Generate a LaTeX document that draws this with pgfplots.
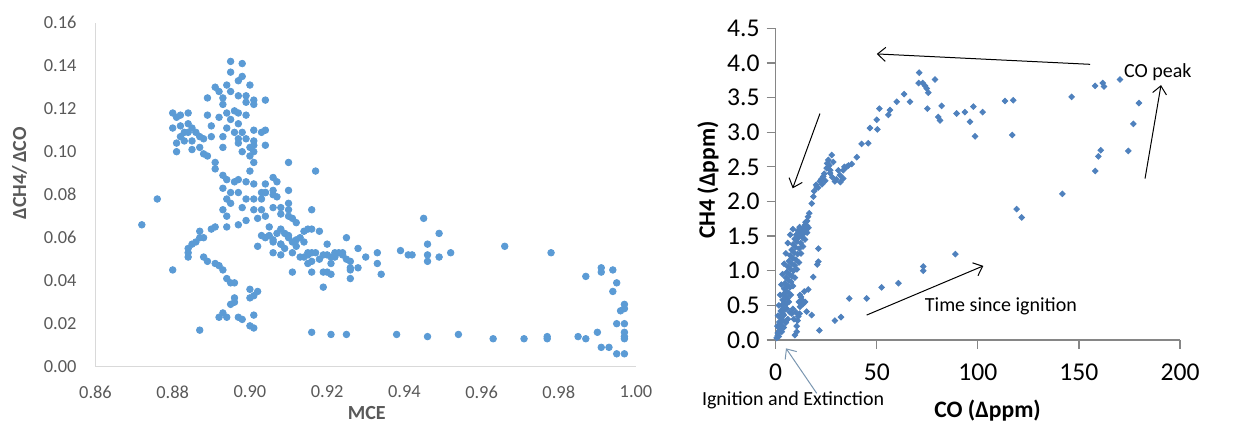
\documentclass[border=0pt]{standalone}
\usepackage{fontspec}
\setmainfont{Carlito}
\usepackage{pgfplots}
\pgfplotsset{compat=1.18}
\usetikzlibrary{arrows.meta}

\definecolor{leftblue}{HTML}{5B9BD5}
\definecolor{rightblue}{HTML}{4F81BD}
\definecolor{labelgray}{HTML}{595959}
\definecolor{lightaxis}{HTML}{D9D9D9}
\definecolor{darkaxis}{HTML}{868686}
\definecolor{ignarrow}{HTML}{7A96B0}

% left panel: MCE vs dCH4/dCO
\pgfplotstableread{
x y
0.895 0.142
0.898 0.141
0.895 0.137
0.898 0.135
0.897 0.133
0.900 0.131
0.891 0.130
0.894 0.131
0.892 0.128
0.895 0.128
0.897 0.126
0.889 0.125
0.893 0.125
0.899 0.126
0.901 0.124
0.904 0.124
0.893 0.122
0.899 0.123
0.901 0.122
0.880 0.118
0.881 0.116
0.882 0.117
0.884 0.118
0.880 0.111
0.882 0.112
0.884 0.113
0.885 0.111
0.883 0.109
0.884 0.109
0.886 0.109
0.882 0.107
0.883 0.105
0.885 0.105
0.881 0.104
0.887 0.107
0.881 0.100
0.885 0.101
0.887 0.102
0.888 0.099
0.889 0.098
0.889 0.117
0.890 0.112
0.888 0.106
0.890 0.107
0.892 0.116
0.894 0.118
0.896 0.119
0.897 0.118
0.899 0.117
0.895 0.115
0.897 0.113
0.894 0.111
0.896 0.109
0.898 0.109
0.901 0.110
0.903 0.109
0.904 0.110
0.893 0.107
0.897 0.106
0.899 0.106
0.901 0.105
0.897 0.104
0.900 0.102
0.901 0.103
0.898 0.100
0.901 0.100
0.904 0.103
0.893 0.102
0.900 0.098
0.901 0.095
0.910 0.095
0.917 0.091
0.891 0.095
0.891 0.092
0.893 0.089
0.894 0.087
0.900 0.091
0.899 0.086
0.896 0.086
0.897 0.087
0.893 0.083
0.895 0.081
0.897 0.081
0.901 0.085
0.904 0.085
0.906 0.088
0.907 0.086
0.906 0.082
0.903 0.081
0.904 0.081
0.906 0.080
0.910 0.082
0.876 0.078
0.899 0.078
0.901 0.078
0.903 0.078
0.894 0.078
0.895 0.076
0.910 0.076
0.908 0.074
0.910 0.073
0.916 0.073
0.893 0.073
0.898 0.074
0.901 0.073
0.872 0.066
0.894 0.070
0.894 0.065
0.897 0.066
0.899 0.068
0.902 0.069
0.903 0.073
0.904 0.070
0.906 0.074
0.908 0.071
0.910 0.070
0.911 0.069
0.912 0.067
0.902 0.056
0.903 0.061
0.905 0.061
0.906 0.058
0.907 0.062
0.908 0.057
0.910 0.060
0.910 0.061
0.911 0.058
0.913 0.060
0.914 0.063
0.915 0.064
0.916 0.064
0.918 0.063
0.906 0.053
0.908 0.052
0.912 0.056
0.911 0.053
0.913 0.051
0.915 0.052
0.916 0.053
0.917 0.053
0.916 0.049
0.918 0.050
0.920 0.057
0.920 0.052
0.922 0.051
0.922 0.053
0.923 0.053
0.924 0.052
0.925 0.050
0.925 0.060
0.926 0.049
0.926 0.045
0.928 0.055
0.928 0.046
0.930 0.051
0.933 0.053
0.933 0.048
0.934 0.043
0.926 0.041
0.916 0.044
0.919 0.044
0.921 0.043
0.919 0.037
0.911 0.044
0.939 0.054
0.941 0.052
0.887 0.063
0.888 0.060
0.887 0.060
0.886 0.058
0.885 0.057
0.884 0.055
0.884 0.053
0.884 0.051
0.890 0.064
0.891 0.065
0.880 0.045
0.888 0.051
0.889 0.049
0.891 0.048
0.892 0.047
0.893 0.045
0.894 0.041
0.895 0.039
0.896 0.039
0.896 0.032
0.896 0.030
0.895 0.029
0.900 0.036
0.901 0.033
0.902 0.035
0.900 0.032
0.893 0.025
0.892 0.023
0.894 0.023
0.897 0.023
0.898 0.022
0.901 0.024
0.900 0.019
0.901 0.018
0.887 0.017
0.916 0.016
0.921 0.015
0.925 0.015
0.938 0.015
0.945 0.069
0.949 0.062
0.946 0.057
0.942 0.052
0.946 0.052
0.946 0.049
0.949 0.051
0.952 0.053
0.966 0.056
0.978 0.053
0.987 0.042
0.991 0.044
0.991 0.046
0.994 0.045
0.995 0.039
0.994 0.035
0.997 0.029
0.997 0.027
0.996 0.026
0.995 0.020
0.997 0.020
0.990 0.016
0.997 0.016
0.997 0.014
0.997 0.013
0.946 0.014
0.954 0.015
0.963 0.013
0.971 0.013
0.977 0.014
0.977 0.013
0.985 0.014
0.987 0.013
0.991 0.009
0.993 0.009
0.995 0.006
0.997 0.006
0.907 0.079
0.904 0.081
0.905 0.065
0.908 0.064
0.904 0.060
0.906 0.059
0.908 0.057
0.914 0.058
0.915 0.053
0.919 0.052
0.921 0.051
0.924 0.053
0.914 0.051
0.915 0.048
0.921 0.048
0.926 0.046
0.920 0.044
0.909 0.062
0.912 0.059
0.909 0.055
}\mcedata

% right panel: CO vs CH4 excess
\pgfplotstableread{
x y
0.5 0.03
1.0 0.10
1.5 0.18
1.8 0.26
2.2 0.34
2.5 0.42
3.0 0.50
3.4 0.58
3.8 0.66
4.2 0.74
4.6 0.82
5.0 0.90
5.5 0.98
6.0 1.06
6.6 1.14
7.2 1.22
7.9 1.30
8.6 1.38
9.4 1.46
10.2 1.52
11.0 1.58
11.8 1.63
1.5 0.05
2.2 0.12
2.8 0.20
3.4 0.28
4.0 0.36
4.6 0.44
5.2 0.52
5.8 0.60
6.4 0.68
7.0 0.76
7.6 0.84
8.2 0.92
8.8 1.00
9.4 1.08
10.0 1.16
10.8 1.24
11.6 1.32
12.4 1.40
13.2 1.48
14.0 1.54
14.8 1.60
15.5 1.65
1.0 0.06
1.8 0.14
2.4 0.22
3.0 0.30
3.5 0.38
4.0 0.46
4.5 0.54
5.0 0.62
5.5 0.70
6.0 0.78
6.5 0.86
7.0 0.94
7.5 1.02
8.0 1.10
8.6 1.18
9.2 1.26
9.8 1.34
10.5 1.42
11.3 1.48
12.2 1.54
13.0 1.58
13.8 1.62
14.5 1.66
15.5 1.72
16.0 1.78
14.8 1.70
0.8 0.20
1.2 0.35
1.6 0.50
2.2 0.65
2.8 0.80
3.4 0.95
4.2 1.10
5.0 1.25
6.0 1.40
7.2 1.52
8.5 1.60
5.5 0.45
6.5 0.55
7.5 0.65
8.5 0.78
9.5 0.90
10.5 1.02
11.5 1.12
12.5 1.25
13.5 1.35
14.5 1.45
15.5 1.55
16.2 1.62
7.0 0.40
8.0 0.38
8.5 0.45
6.0 0.30
5.0 0.25
4.0 0.18
3.0 0.12
9.0 0.30
10.0 0.40
11.5 0.55
12.5 0.62
13.5 0.52
11.8 0.38
10.8 0.28
16.6 1.83
17.8 1.97
18.6 2.07
20.3 2.21
21.9 2.29
23.5 2.36
25.2 2.48
26.0 2.60
26.9 2.41
27.7 2.67
28.5 2.57
29.3 2.29
31.8 2.38
33.4 2.45
33.4 2.33
35.1 2.50
37.6 2.54
40.1 2.64
42.5 2.83
45.8 2.84
46.6 3.06
50.3 3.04
50.0 3.18
51.3 3.34
55.7 3.25
56.5 3.32
59.9 3.44
63.5 3.55
66.4 3.44
71.0 3.86
70.7 3.71
72.7 3.71
73.9 3.67
74.7 3.63
75.5 3.57
78.8 3.76
75.0 3.34
80.4 3.22
81.3 3.17
82.1 3.38
89.5 3.27
93.6 3.29
96.1 3.15
97.8 3.37
98.6 2.94
102.4 3.29
113.4 3.45
117.5 3.46
117.0 2.96
146.4 3.51
158.0 3.67
161.8 3.71
162.4 3.66
170.3 3.76
179.7 3.42
176.9 3.12
174.4 2.73
160.8 2.74
159.6 2.65
158.1 2.44
141.8 2.11
119.2 1.89
121.7 1.77
19.0 2.15
20.0 2.24
21.0 2.20
22.5 2.32
23.0 2.25
24.0 2.40
24.5 2.30
25.5 2.55
26.5 2.52
27.0 2.45
28.0 2.35
30.0 2.32
31.0 2.45
32.0 2.28
34.0 2.50
36.0 2.52
21.1 1.32
21.1 1.13
20.6 1.09
18.6 0.91
16.1 0.73
14.1 0.70
12.0 0.65
12.9 0.58
14.5 0.55
12.0 0.48
15.3 0.41
17.8 0.36
11.2 0.34
10.4 0.20
10.4 0.12
9.5 0.07
21.6 0.14
29.3 0.28
32.3 0.33
36.4 0.60
45.0 0.60
52.4 0.76
60.7 0.82
73.0 1.06
73.0 1.00
88.9 1.24
}\codata

\begin{document}
\begin{tikzpicture}[x=1pt,y=1pt]
\path[use as bounding box] (0,0) rectangle (621.5,211.5);

\begin{axis}[
  at={(47.75pt,28.15pt)}, anchor=south west,
  scale only axis, width=270.25pt, height=172pt,
  xmin=0.86, xmax=1.00, ymin=0, ymax=0.16,
  axis lines=left,
  axis line style={draw=lightaxis, line width=0.6pt, -},
  major tick length=0pt,
  xtick={0.86,0.88,0.90,0.92,0.94,0.96,0.98,1.00},
  ytick={0,0.02,0.04,0.06,0.08,0.10,0.12,0.14,0.16},
  /pgf/number format/assume math mode=true,
  /pgf/number format/.cd, fixed, fixed zerofill, precision=2, /pgfplots/.cd,
  tick label style={font=\fontsize{9.2}{11}\selectfont, text=labelgray},
  xticklabel style={yshift=-6pt},
  yticklabel style={xshift=-6pt},
  xlabel={MCE},
  ylabel={ΔCH4/\,ΔCO},
  label style={font=\bfseries\fontsize{10}{12}\selectfont, text=labelgray},
  x label style={at={(axis description cs:0.502,-0.135)}, anchor=center},
  y label style={at={(axis description cs:-0.1406,0.562)}, anchor=center},
]
\addplot[only marks, mark=*, mark size=1.65pt,
  mark options={draw=leftblue, fill=leftblue}] table {\mcedata};
\end{axis}

\begin{axis}[
  at={(387.85pt,41.5pt)}, anchor=south west,
  scale only axis, width=202.15pt, height=155.85pt,
  xmin=0, xmax=200, ymin=0, ymax=4.5,
  axis lines=left,
  axis line style={draw=darkaxis, line width=0.6pt, -},
  tick style={draw=darkaxis, line width=0.6pt},
  tick align=outside, major tick length=4.5pt,
  xtick={0,50,100,150,200},
  ytick={0,0.5,1.0,1.5,2.0,2.5,3.0,3.5,4.0,4.5},
  /pgf/number format/assume math mode=true,
  yticklabel style={/pgf/number format/.cd, fixed, fixed zerofill, precision=1},
  xticklabel style={yshift=-4pt},
  tick label style={font=\fontsize{12.8}{14}\selectfont, text=black},
  xlabel={CO (Δppm)},
  ylabel={CH4 (Δppm)},
  label style={font=\bfseries\fontsize{11.8}{14}\selectfont},
  x label style={at={(axis description cs:0.524,-0.225)}, anchor=center},
  y label style={at={(axis description cs:-0.1675,0.513)}, anchor=center},
  clip=false,
]
\addplot[only marks, mark=square*, mark size=1.0pt,
  mark options={draw=rightblue, fill=rightblue, rotate=45}] table {\codata};

\draw[-{Straight Barb[length=4pt,width=7pt]}, line width=0.5pt]
  (axis cs:155.5,3.98) -- (axis cs:50.0,4.13);
\draw[-{Straight Barb[length=4pt,width=7pt]}, line width=0.5pt]
  (axis cs:182.7,2.33) -- (axis cs:190.6,3.68);
\draw[-{Straight Barb[length=4pt,width=7pt]}, line width=0.5pt]
  (axis cs:21.9,3.27) -- (axis cs:8.4,2.19);
\draw[-{Straight Barb[length=4pt,width=7pt]}, line width=0.5pt]
  (axis cs:45.0,0.36) -- (axis cs:102.7,1.07);
\draw[-{Straight Barb[length=4pt,width=7pt]}, line width=0.5pt, draw=ignarrow]
  (axis cs:20.3,-0.77) -- (axis cs:5.1,-0.12);

\node[font=\fontsize{10}{12}\selectfont] at (axis cs:189.0,3.87) {CO peak};
\node[font=\fontsize{10}{12}\selectfont] at (axis cs:111.4,0.48) {Time since ignition};
\node[font=\fontsize{10}{12}\selectfont] at (axis cs:8.6,-0.87) {Ignition and Extinction};
\end{axis}
\end{tikzpicture}
\end{document}
